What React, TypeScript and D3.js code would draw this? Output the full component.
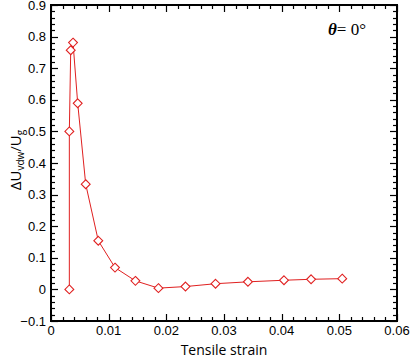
import { useRef, useEffect } from 'react';
import * as d3 from 'd3';

const strain = [0.00318, 0.00318, 0.00342, 0.00382, 0.00463, 0.00602, 0.0082, 0.0111, 0.01464, 0.01863, 0.02332, 0.02853, 0.03415, 0.0404, 0.0451, 0.0505];
const energy = [0, 0.5, 0.757, 0.781, 0.589, 0.333, 0.154, 0.069, 0.027, 0.004, 0.009, 0.018, 0.024, 0.029, 0.032, 0.034];
const xTicks = [0, 0.01, 0.02, 0.03, 0.04, 0.05, 0.06];
const yTicks = [-0.1, 0, 0.1, 0.2, 0.3, 0.4, 0.5, 0.6, 0.7, 0.8, 0.9];

export default function App() {
  const ref = useRef<SVGSVGElement>(null);

  useEffect(() => {
    if (!ref.current) return;
    const width = 410;
    const height = 358;
    const m = { left: 51, right: 13, top: 5, bottom: 37 };

    const svg = d3.select(ref.current);
    svg.selectAll('*').remove();

    const x = d3.scaleLinear().domain([0, 0.06]).range([m.left, width - m.right]);
    const y = d3.scaleLinear().domain([-0.1, 0.9]).range([height - m.bottom, m.top]);

    const x0 = m.left, x1 = width - m.right, y0 = height - m.bottom, y1 = m.top;
    const g = svg.append('g');

    // ticks (inward on all four sides)
    const xMinor = d3.range(0, 0.0601, 0.002);
    const yMinor = d3.range(-0.1, 0.9001, 0.02);
    const tickG = g.append('g').attr('stroke', '#000').attr('stroke-width', 1.2);
    xMinor.forEach((v, i) => {
      const len = i % 5 === 0 ? 7 : 4;
      const px = Math.round(x(v)) + 0.5;
      tickG.append('line').attr('x1', px).attr('x2', px).attr('y1', y0).attr('y2', y0 - len);
      tickG.append('line').attr('x1', px).attr('x2', px).attr('y1', y1).attr('y2', y1 + len);
    });
    yMinor.forEach((v, i) => {
      const len = i % 5 === 0 ? 7 : 4;
      const py = Math.round(y(v)) + 0.5;
      tickG.append('line').attr('x1', x0).attr('x2', x0 + len).attr('y1', py).attr('y2', py);
      tickG.append('line').attr('x1', x1).attr('x2', x1 - len).attr('y1', py).attr('y2', py);
    });

    g.append('rect')
      .attr('x', x0).attr('y', y1)
      .attr('width', x1 - x0).attr('height', y0 - y1)
      .attr('fill', 'none').attr('stroke', '#000').attr('stroke-width', 2);

    // tick labels
    g.selectAll('text.xt')
      .data(xTicks)
      .enter()
      .append('text')
      .attr('x', (d) => x(d))
      .attr('y', y0 + 14)
      .attr('text-anchor', 'middle')
      .style('font-family', 'Liberation Sans, Arial, sans-serif')
      .style('font-size', '13px')
      .text((d) => (d === 0 ? '0' : d3.format('.2f')(d)));

    g.selectAll('text.yt')
      .data(yTicks)
      .enter()
      .append('text')
      .attr('x', x0 - 5)
      .attr('y', (d) => y(d) + 4.5)
      .attr('text-anchor', 'end')
      .style('font-family', 'Liberation Sans, Arial, sans-serif')
      .style('font-size', '13px')
      .text((d) => (Math.abs(d) < 1e-9 ? '0' : d3.format('.1f')(d)));

    // data line + diamond markers
    const pts = strain.map((s, i) => [s, energy[i]] as [number, number]);
    const line = d3.line<[number, number]>().x((d) => x(d[0])).y((d) => y(d[1]));
    g.append('path')
      .datum(pts)
      .attr('d', line)
      .attr('fill', 'none')
      .attr('stroke', '#e02020')
      .attr('stroke-width', 1);

    const sym = d3.symbol().type(d3.symbolDiamond2).size(50);
    g.selectAll('path.pt')
      .data(pts)
      .enter()
      .append('path')
      .attr('d', sym)
      .attr('transform', (d) => `translate(${x(d[0])},${y(d[1])})`)
      .attr('fill', 'white')
      .attr('stroke', '#e02020')
      .attr('stroke-width', 1.1);

    // annotation
    const ann = g.append('text')
      .attr('x', 328)
      .attr('y', 35)
      .style('font-family', 'Liberation Serif, Times New Roman, serif')
      .style('font-size', '17px');
    ann.append('tspan').style('font-style', 'italic').style('font-weight', 'bold').text('θ');
    ann.append('tspan').text('= 0°');

    // axis titles
    g.append('text')
      .attr('x', (x0 + x1) / 2)
      .attr('y', 355)
      .attr('text-anchor', 'middle')
      .style('font-family', 'Open Sans, sans-serif')
      .style('font-size', '14px')
      .text('Tensile strain');

    const yl = g.append('text')
      .attr('transform', `translate(21, 160) rotate(-90)`)
      .attr('text-anchor', 'middle')
      .style('font-family', 'Open Sans, sans-serif')
      .style('font-size', '15px');
    yl.append('tspan').text('ΔU');
    yl.append('tspan').attr('font-size', '10px').attr('dy', 3).text('vdw');
    yl.append('tspan').attr('dy', -3).text('/U');
    yl.append('tspan').attr('font-size', '10px').attr('dy', 3).text('g');
  }, []);

  return (
    <svg
      ref={ref}
      width={410}
      height={358}
      style={{ position: 'absolute', left: 0, top: 0, background: 'white' }}
    />
  );
}
